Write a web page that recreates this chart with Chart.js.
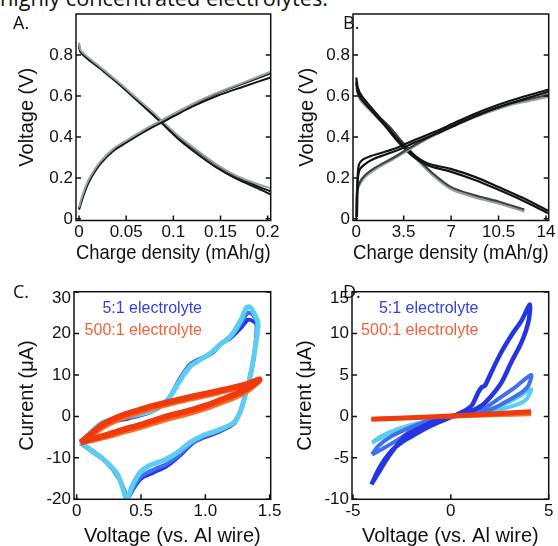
<!DOCTYPE html>
<html lang="en">
<head>
<meta charset="UTF-8" />
<title>Charge curves and CV</title>
<script src="https://cdn.jsdelivr.net/npm/chart.js"></script>
<style>
  body { margin: 0; background: #fff; overflow: hidden; }
  #fig { position: relative; width: 558px; height: 546px; overflow: hidden; background: #fff; }
  #fig canvas { position: absolute; }
  .cap { position: absolute; left: 0px; top: -12.6px; font: 21.7px/21.7px 'Open Sans', sans-serif; color: #111; white-space: nowrap; }
  .tag { position: absolute; font: 18px/18px 'Open Sans', sans-serif; color: #111; }
  .leg { position: absolute; font: 16px/16px 'Liberation Sans', Arial, sans-serif; text-align: right; white-space: nowrap; }
</style>
</head>
<body>
<div id="fig">
  <div class="cap">highly concentrated electrolytes.</div>
  <canvas id="chartA"></canvas>
  <canvas id="chartB"></canvas>
  <canvas id="chartC"></canvas>
  <canvas id="chartD"></canvas>
  <div class="tag" style="left:13px;top:12.7px">A.</div>
  <div class="tag" style="left:343px;top:12.7px">B.</div>
  <div class="tag" style="left:13px;top:282.3px">C.</div>
  <div class="tag" style="left:343px;top:282.3px">D.</div>
  <div class="leg" style="right:356px;top:299.8px;color:#3042e0">5:1 electrolyte</div>
  <div class="leg" style="right:356px;top:322.2px;color:#f2603a">500:1 electrolyte</div>
  <div class="leg" style="right:79.5px;top:299.8px;color:#3042e0">5:1 electrolyte</div>
  <div class="leg" style="right:79.5px;top:322.2px;color:#f2603a">500:1 electrolyte</div>
</div>

<script>
  // ---- tick values / labels ----
  const ticksAX = [0, 0.05, 0.1, 0.15, 0.2];
  const labelsAX = ['0', '0.05', '0.1', '0.15', '0.2'];
  const ticksBX = [0, 3.5, 7, 10.5, 14];
  const labelsBX = ['0', '3.5', '7', '10.5', '14'];
  const ticksV = [0, 0.2, 0.4, 0.6, 0.8];
  const labelsV = ['0', '0.2', '0.4', '0.6', '0.8'];
  const ticksCX = [0, 0.5, 1.0, 1.5];
  const labelsCX = ['0', '0.5', '1.0', '1.5'];
  const ticksCY = [-20, -10, 0, 10, 20, 30];
  const labelsCY = ['-20', '-10', '0', '10', '20', ['', '30']];   // top label sits a bit below the corner
  const ticksDX = [-5, 0, 5];
  const labelsDX = ['-5', '0', '5'];
  const ticksDY = [-10, -5, 0, 5, 10, 15];
  const labelsDY = ['-10', '-5', '0', '5', '10', ['', '15']];

  // ---- A: charge / discharge, 5:1 electrolyte ----
  const aCharge1 = [[0,0.045],[0.002,0.075],[0.006,0.13],[0.011,0.185],[0.022,0.265],[0.036,0.33],[0.05,0.372],[0.068,0.422],[0.084,0.462],[0.1,0.5],[0.121,0.55],[0.146,0.6],[0.174,0.645],[0.203,0.69]];
  const aCharge2 = [[0,0.05],[0.002,0.082],[0.006,0.138],[0.011,0.192],[0.022,0.272],[0.036,0.338],[0.05,0.38],[0.068,0.43],[0.084,0.47],[0.1,0.51],[0.121,0.56],[0.146,0.612],[0.174,0.66],[0.203,0.71]];
  const aCharge3 = [[0,0.055],[0.002,0.09],[0.006,0.145],[0.011,0.198],[0.022,0.276],[0.036,0.34],[0.05,0.382],[0.068,0.432],[0.084,0.472],[0.1,0.512],[0.121,0.562],[0.146,0.615],[0.174,0.665],[0.203,0.718]];
  const aDisch1 = [[0,0.84],[0.0015,0.815],[0.008,0.785],[0.026,0.72],[0.043,0.655],[0.061,0.58],[0.079,0.505],[0.086,0.475],[0.104,0.395],[0.125,0.318],[0.146,0.25],[0.167,0.195],[0.189,0.15],[0.203,0.12]];
  const aDisch2 = [[0,0.85],[0.0015,0.82],[0.008,0.79],[0.026,0.725],[0.043,0.66],[0.061,0.585],[0.079,0.512],[0.086,0.482],[0.104,0.405],[0.125,0.33],[0.146,0.262],[0.167,0.205],[0.189,0.16],[0.203,0.135]];
  const aDisch3 = [[0,0.86],[0.0015,0.825],[0.008,0.795],[0.026,0.728],[0.043,0.663],[0.061,0.59],[0.079,0.518],[0.086,0.488],[0.104,0.41],[0.125,0.335],[0.146,0.265],[0.167,0.21],[0.189,0.17],[0.203,0.15]];

  // ---- B: charge / discharge, 500:1 electrolyte ----
  const bCharge1 = [[0.05,0.01],[0.1,0.2],[0.2,0.265],[0.5,0.29],[1,0.305],[2,0.325],[3.1,0.35],[4.3,0.385],[5.8,0.425],[7.3,0.47],[9.2,0.525],[11.3,0.575],[12.9,0.607],[14.15,0.63]];
  const bCharge2 = [[0.05,0.01],[0.1,0.18],[0.25,0.24],[0.6,0.265],[1.2,0.29],[2.2,0.315],[3.2,0.34],[4.4,0.375],[5.9,0.415],[7.4,0.46],[9.3,0.515],[11.4,0.565],[13,0.597],[14.15,0.62]];
  const bCharge3 = [[0,0.01],[0.05,0.12],[0.2,0.16],[0.6,0.2],[1.4,0.24],[2.7,0.29],[3.7,0.33],[5.1,0.385],[6.8,0.44],[8.7,0.495],[11,0.548],[12.7,0.575],[14.15,0.595]];
  const bCharge4 = [[0,0.01],[0.05,0.13],[0.2,0.17],[0.6,0.21],[1.4,0.25],[2.7,0.297],[3.7,0.337],[5.1,0.39],[6.8,0.447],[8.7,0.503],[11,0.556],[12.7,0.584],[14.15,0.605]];
  const bDisch1 = [[0,0.69],[0.12,0.64],[0.4,0.6],[1.15,0.54],[2.1,0.465],[3.1,0.385],[4.1,0.32],[5.3,0.27],[6.9,0.245],[8.75,0.205],[10.5,0.155],[12.2,0.105],[14.15,0.04]];
  const bDisch2 = [[0,0.67],[0.12,0.62],[0.4,0.585],[1.15,0.525],[2.1,0.455],[3.1,0.375],[4.1,0.31],[5.3,0.26],[6.9,0.232],[8.75,0.19],[10.5,0.142],[12.2,0.092],[14.15,0.028]];
  const bDisch3 = [[0,0.64],[0.15,0.6],[0.4,0.57],[1.4,0.505],[2.45,0.44],[3.4,0.365],[4.3,0.3],[5.6,0.215],[7,0.145],[8.75,0.105],[10.5,0.075],[12.4,0.035]];
  const bDisch4 = [[0,0.66],[0.15,0.61],[0.4,0.58],[1.4,0.515],[2.45,0.45],[3.4,0.375],[4.3,0.31],[5.6,0.225],[7,0.155],[8.75,0.115],[10.5,0.085],[12.4,0.045]];

  // ---- C: CV 0–1.4 V ----
  const cCyan = [[0.03,-6.3],[0.2,-1.5],[0.4,0],[0.55,1],[0.65,2.5],[0.72,4.5],[0.8,8.5],[0.88,12],[0.95,13.5],[1.05,15.5],[1.12,17.5],[1.2,19.5],[1.28,23.5],[1.32,26.3],[1.35,26.3],[1.4,23.5],[1.41,22],[1.38,15],[1.34,8.5],[1.3,4],[1.27,1],[1.22,-1.5],[1.1,-3.3],[0.98,-4.6],[0.88,-6.3],[0.78,-8.8],[0.68,-10.5],[0.57,-11.8],[0.49,-13.6],[0.43,-16.9],[0.39,-20],[0.35,-16.5],[0.31,-13.6],[0.21,-10.4],[0.1,-7.9],[0.03,-6.3]];
  const cMid = [[0.03,-6.4],[0.2,-1.8],[0.4,-0.3],[0.55,0.9],[0.65,2.4],[0.72,4.5],[0.8,8.8],[0.88,12.3],[0.95,13.6],[1.05,15.3],[1.12,17.5],[1.2,19.2],[1.28,22.5],[1.33,25],[1.37,24.5],[1.4,22.5],[1.38,15],[1.34,8.5],[1.3,4],[1.27,1],[1.22,-1.6],[1.1,-3.6],[0.98,-5],[0.9,-6.3],[0.8,-9.2],[0.7,-11.5],[0.6,-12.8],[0.5,-14.5],[0.44,-17.2],[0.4,-19.6],[0.36,-17],[0.32,-14.5],[0.23,-11],[0.12,-8.2],[0.03,-6.4]];
  const cDark = [[0.03,-6.5],[0.2,-2],[0.4,-0.5],[0.55,0.8],[0.65,2.3],[0.72,4.5],[0.8,9],[0.88,12.5],[0.95,13.8],[1.05,15.2],[1.12,17.5],[1.2,19],[1.28,21.5],[1.33,23.3],[1.37,23],[1.4,22],[1.38,15],[1.34,8.5],[1.3,4],[1.27,1],[1.22,-1.8],[1.1,-3.8],[0.98,-5.2],[0.9,-6.5],[0.8,-9.5],[0.7,-12],[0.6,-13.5],[0.5,-15],[0.44,-17.5],[0.4,-19.5],[0.37,-18],[0.33,-15],[0.25,-11.5],[0.12,-8.5],[0.03,-6.5]];
  const cRed = [[0.03,-6.3],[0.1,-4.5],[0.21,-1.8],[0.35,0.2],[0.47,1.4],[0.6,2.6],[0.72,3.5],[0.9,4.8],[1.11,6.2],[1.3,7.6],[1.42,8.8],[1.35,7.2],[1.25,5.6],[1.12,4],[1,2.6],[0.85,1.2],[0.7,0],[0.5,-2],[0.35,-3.3],[0.21,-4.7],[0.1,-5.6],[0.03,-6.3]];
  const cOrange = [[0.03,-6.2],[0.1,-4.8],[0.21,-2.4],[0.35,-0.4],[0.47,0.9],[0.6,2.1],[0.72,3.1],[0.9,4.4],[1.11,5.9],[1.3,7.4],[1.42,9.0],[1.35,6.8],[1.25,5.0],[1.12,3.4],[1,2.0],[0.85,0.6],[0.7,-0.6],[0.5,-2.5],[0.35,-3.8],[0.21,-5.0],[0.1,-5.8],[0.03,-6.2]];

  // ---- D: CV -4–4 V ----
  const dDark = [[-4.06,-8.2],[-3.6,-6.0],[-3.05,-4.2],[-2.5,-3.1],[-1.85,-2.2],[-1.0,-1.1],[0,-0.1],[0.55,0.5],[1.06,1.3],[1.4,2.9],[1.57,3.5],[1.74,3.7],[2.08,5.4],[2.59,7.8],[3.1,9.8],[3.62,11.6],[4.04,13.5],[3.96,11.4],[3.62,9.0],[3.1,6.6],[2.59,4.1],[2.08,2.5],[1.57,1.3],[0.9,0.5],[0,0],[-0.8,-0.5],[-1.6,-1.4],[-2.3,-2.3],[-2.7,-3.3],[-3.2,-4.9],[-3.7,-6.8],[-4.06,-8.2]];
  const dMid = [[-4.03,-4.6],[-3.55,-4.0],[-2.7,-2.8],[-1.84,-1.5],[-0.99,-0.7],[0,0],[0.8,0.3],[1.57,0.8],[2.42,2.1],[3.28,3.5],[4.1,5.0],[3.96,3.7],[3.62,2.9],[2.76,1.7],[1.91,0.7],[0.89,0.16],[0,0],[-0.82,-0.3],[-1.84,-1.1],[-3.04,-2.4],[-3.72,-3.6],[-4.03,-4.6]];
  const dCyan = [[-4.03,-3.2],[-3.2,-2.1],[-2.18,-1.3],[-1.16,-0.73],[0,0],[0.8,0.25],[1.57,0.6],[2.76,1.5],[3.5,2.4],[4.1,3.3],[3.79,1.9],[2.94,1.1],[1.91,0.5],[0.7,0.1],[0,0],[-1.5,-0.7],[-2.7,-1.5],[-3.55,-2.35],[-4.03,-3.2]];
  const dRed = [[-4.06,-0.35],[0,0.05],[4.1,0.55]];
  const dOrange = [[-4.06,-0.3],[0,0.0],[4.1,0.25]];

  const BLACK = '#141414', DARKGRAY = '#3b4442', GRAY = '#95a3a0';
  const BLUE = '#2436e2', MIDBLUE = '#3f72ea', CYAN = '#5ccdf2', RED = '#ee3a0c', ORANGE = '#ff6a22';
  const TEXT = '#111';
  const FONT = "'Liberation Sans', Arial, sans-serif";

  function line(pts, color, width) {
    return {
      data: pts.map(p => ({ x: p[0], y: p[1] })),
      borderColor: color, borderWidth: width, showLine: true, fill: false,
      pointRadius: 0, tension: 0.3
    };
  }

  // box frame + inward tick marks
  const frame = {
    id: 'frame',
    afterDatasetsDraw(chart) {
      const { ctx, chartArea: a, scales: { x, y } } = chart;
      ctx.save();
      ctx.strokeStyle = TEXT;
      ctx.lineWidth = 1.5;
      ctx.beginPath();
      x.ticks.forEach(t => {
        const px = x.getPixelForValue(t.value);
        ctx.moveTo(px, a.bottom); ctx.lineTo(px, a.bottom - 5);
      });
      y.ticks.forEach(t => {
        const py = y.getPixelForValue(t.value);
        ctx.moveTo(a.left, py); ctx.lineTo(a.left + 5, py);
        ctx.moveTo(a.right, py); ctx.lineTo(a.right - 5, py);
      });
      ctx.stroke();
      ctx.strokeRect(a.left, a.top, a.right - a.left, a.bottom - a.top);
      ctx.restore();
    }
  };

  // p.rect = canvas [left, top, w, h]; p.box = plot area [left, top, right, bottom] in page px
  function panel(id, p) {
    const cv = document.getElementById(id);
    const [cx, cy, cw, ch] = p.rect;
    cv.width = cw; cv.height = ch;
    cv.style.left = cx + 'px'; cv.style.top = cy + 'px';
    new Chart(cv, {
      type: 'scatter',
      data: { datasets: p.sets },
      options: {
        responsive: false, animation: false, devicePixelRatio: 1,
        layout: { padding: { left: 0, top: p.box[1] - cy, right: cx + cw - p.box[2], bottom: 0 } },
        plugins: { legend: { display: false }, tooltip: { enabled: false } },
        scales: {
          x: {
            type: 'linear', min: p.xr[0], max: p.xr[1],
            afterFit: s => { s.height = cy + ch - p.box[3]; },
            afterBuildTicks: s => { s.ticks = p.xt.map(v => ({ value: v })); },
            ticks: { autoSkip: false, maxRotation: 0, padding: 2, color: TEXT,
                     font: { family: FONT, size: 17 }, callback: (v, i) => p.xl[i] },
            grid: { display: false, drawTicks: false },
            border: { display: false },
            title: { display: true, text: p.xTitle, color: TEXT, padding: 0,
                     font: { family: FONT, size: p.xTitleSize } }
          },
          y: {
            type: 'linear', min: p.yr[0], max: p.yr[1],
            afterFit: s => { s.width = p.box[0] - cx; },
            afterBuildTicks: s => { s.ticks = p.yt.map(v => ({ value: v })); },
            ticks: { autoSkip: false, padding: 3, color: TEXT,
                     font: { family: FONT, size: 17, lineHeight: 0.76 }, callback: (v, i) => p.yl[i] },
            grid: { display: false, drawTicks: false },
            border: { display: false },
            title: { display: true, text: p.yTitle, color: TEXT, padding: { top: p.yPad, bottom: 0 },
                     font: { family: FONT, size: 20 } }
          }
        }
      },
      plugins: [frame]
    });
  }

  panel('chartA', {
    rect: [0, 0, 290, 266], box: [76, 14, 270.7, 220.5],
    xr: [-0.0032, 0.2032], yr: [-0.008, 1.0],
    xt: ticksAX, xl: labelsAX, yt: ticksV, yl: labelsV,
    xTitle: 'Charge density (mAh/g)', xTitleSize: 21, yTitle: 'Voltage (V)', yPad: 15.5,
    sets: [
      line(aCharge3, GRAY, 2), line(aCharge2, BLACK, 2), line(aCharge1, BLACK, 2),
      line(aDisch3, GRAY, 2), line(aDisch2, BLACK, 2), line(aDisch1, BLACK, 2)
    ]
  });

  panel('chartB', {
    rect: [279, 0, 279, 266], box: [353, 14, 548.7, 220.5],
    xr: [-0.24, 14.2], yr: [-0.008, 1.0],
    xt: ticksBX, xl: labelsBX, yt: ticksV, yl: labelsV,
    xTitle: 'Charge density (mAh/g)', xTitleSize: 21, yTitle: 'Voltage (V)', yPad: 16,
    sets: [
      line(bCharge1, BLACK, 2.2), line(bCharge2, BLACK, 2.2),
      line(bCharge4, DARKGRAY, 2.2), line(bCharge3, GRAY, 2.2),
      line(bDisch1, BLACK, 2.2), line(bDisch2, BLACK, 2.2),
      line(bDisch4, DARKGRAY, 2.2), line(bDisch3, GRAY, 2.2)
    ]
  });

  panel('chartC', {
    rect: [0, 268, 288, 280], box: [74, 291.7, 270.7, 499.3],
    xr: [-0.021, 1.508], yr: [-20, 30.1],
    xt: ticksCX, xl: labelsCX, yt: ticksCY, yl: labelsCY,
    xTitle: 'Voltage (vs. Al wire)', xTitleSize: 20, yTitle: 'Current (\u03bcA)', yPad: 15.5,
    sets: [
      line(cRed, RED, 6), line(cOrange, ORANGE, 6),
      line(cCyan, CYAN, 5), line(cMid, MIDBLUE, 4), line(cDark, BLUE, 4)
    ]
  });

  panel('chartD', {
    rect: [279, 268, 279, 280], box: [352, 291.7, 548.7, 499.3],
    xr: [-5.05, 5.0], yr: [-10, 15.05],
    xt: ticksDX, xl: labelsDX, yt: ticksDY, yl: labelsDY,
    xTitle: 'Voltage (vs. Al wire)', xTitleSize: 20, yTitle: 'Current (\u03bcA)', yPad: 14.5,
    sets: [
      line(dRed, RED, 5), line(dOrange, ORANGE, 4),
      line(dDark, BLUE, 4.5), line(dMid, MIDBLUE, 4), line(dCyan, CYAN, 4)
    ]
  });
</script>
</body>
</html>
